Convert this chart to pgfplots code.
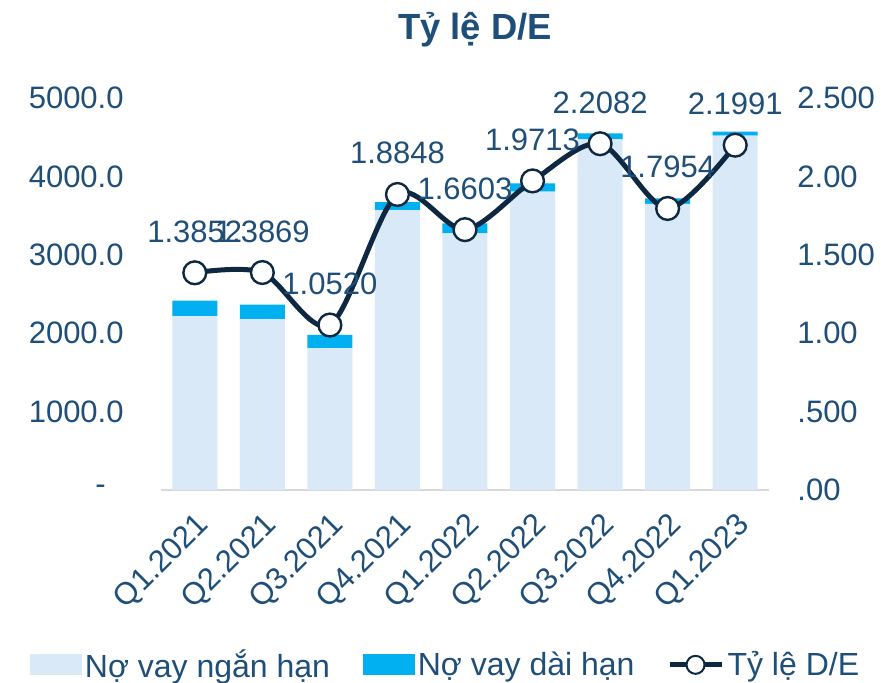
\documentclass[border=0pt]{standalone}
\usepackage{fontspec}
\setmainfont{Liberation Sans}
\usepackage{pgfplots}
\pgfplotsset{compat=1.18}
\definecolor{txt}{RGB}{31,78,121}
\definecolor{navy}{RGB}{14,40,66}
\definecolor{lightbar}{RGB}{218,233,248}
\definecolor{bluebar}{RGB}{0,176,240}
\newcommand\lbl{\fontsize{15.5pt}{18pt}\selectfont}
\begin{document}
\begin{tikzpicture}
\path[use as bounding box] (-80.5pt,-96.5pt) rectangle (360pt,245pt);
\begin{axis}[
  at={(0,0)}, anchor=south west, scale only axis,
  width=304pt, height=196pt,
  xmin=-0.5, xmax=8.5, ymin=0, ymax=5000,
  ybar stacked, bar width=22.5pt,
  axis x line*=bottom, axis y line*=left,
  x axis line style={draw=black!15, line width=0.6pt},
  y axis line style={draw=none},
  major tick length=0pt,
  xtick={0,1,2,3,4,5,6,7,8},
  xticklabels={Q1.2021,Q2.2021,Q3.2021,Q4.2021,Q1.2022,Q2.2022,Q3.2022,Q4.2022,Q1.2023},
  xticklabel style={xshift=0pt, yshift=-10pt, rotate=45, anchor=north east, inner sep=0pt, font=\lbl, text=txt},
  ytick={0,1000,2000,3000,4000,5000},
  yticklabels={-\kern9pt,1000.0,2000.0,3000.0,4000.0,5000.0},
  yticklabel style={anchor=east, inner sep=0pt, xshift=-18.5pt, font=\lbl, text=txt},
]
\addplot[fill=lightbar, draw=none] coordinates {
 (0,2219) (1,2181) (2,1811) (3,3571) (4,3274) (5,3805) (6,4473) (7,3648) (8,4519)};
\addplot[fill=bluebar, draw=none] coordinates {
 (0,196) (1,183) (2,166) (3,102) (4,128) (5,107) (6,77) (7,72) (8,51)};
\end{axis}
\begin{axis}[
  at={(0,0)}, anchor=south west, scale only axis,
  width=304pt, height=196pt,
  xmin=-0.5, xmax=8.5, ymin=0, ymax=2.5,
  axis x line=none, axis y line*=right,
  y axis line style={draw=none},
  major tick length=0pt,
  ytick={0,0.5,1,1.5,2,2.5},
  yticklabels={.00,.500,1.00,1.500,2.00,2.500},
  yticklabel style={anchor=west, inner sep=0pt, xshift=14pt, font=\lbl, text=txt},
  legend columns=3,
  legend cell align=left,
  legend style={at={(0.469,-0.446)}, anchor=center, draw=none, fill=none,
    font=\fontsize{16pt}{18pt}\selectfont, text=txt,
    /tikz/every even column/.append style={column sep=14.5pt},
    nodes={inner sep=1.75pt}},
]
\addlegendimage{legend image code/.code={\fill[lightbar] (0pt,-5pt) rectangle (25.5pt,5pt);}}
\addlegendentry{Nợ vay ngắn hạn}
\addlegendimage{legend image code/.code={\fill[bluebar] (0pt,-5pt) rectangle (25.5pt,5pt);}}
\addlegendentry{Nợ vay dài hạn}
\addplot[navy, line width=2.5pt, smooth, mark=*, mark size=5.7pt,
  mark options={fill=white, draw=navy, line width=1.2pt, solid},
  nodes near coords, point meta=explicit symbolic,
  every node near coord/.append style={font=\lbl, text=txt, anchor=south, inner sep=0pt, yshift=14.5pt},
  legend image code/.code={\draw[navy,line width=2.5pt] (0pt,0pt)--(26pt,0pt);
     \draw[navy, fill=white, line width=1pt] (13pt,0pt) circle (4.5pt);}]
coordinates {
 (0,1.3852)[1.3852] (1,1.3869)[1.3869] (2,1.0520)[1.0520] (3,1.8848)[1.8848]
 (4,1.6603)[1.6603] (5,1.9713)[1.9713] (6,2.2082)[2.2082] (7,1.7954)[1.7954]
 (8,2.1991)[2.1991]};
\addlegendentry{Tỷ lệ D/E}
\end{axis}
\node[font=\fontsize{18.2pt}{20pt}\selectfont\bfseries, text=txt] at (157pt,230pt) {Tỷ lệ D/E};
\end{tikzpicture}
\end{document}
